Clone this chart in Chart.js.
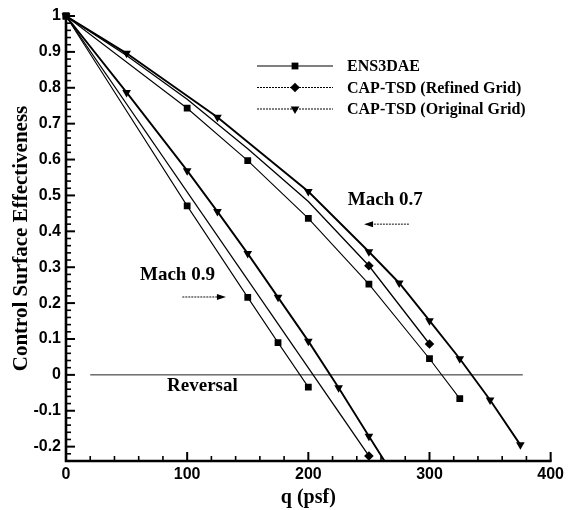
<!DOCTYPE html>
<html><head><meta charset="utf-8">
<script src="https://cdn.jsdelivr.net/npm/chart.js@4/dist/chart.umd.min.js"></script>
<style>html,body{margin:0;padding:0;background:#fff}#wrap{width:568px;height:510px;position:relative}</style>
</head><body><div id="wrap"><canvas id="c"></canvas></div>
<script>
// ---- data ----
const seriesNames = ['ENS3DAE', 'CAP-TSD (Refined Grid)', 'CAP-TSD (Original Grid)'];
// Mach 0.7
const m07EnsQ = [0, 100, 150, 200, 250, 300, 325];
const m07EnsV = [1, 0.743, 0.597, 0.436, 0.253, 0.045, -0.066];
const m07RefQ = [0, 50, 100, 150, 200, 250, 300];
const m07RefV = [1, 0.89, 0.768, 0.63, 0.483, 0.304, 0.086];
const m07RefMarkQ = [250, 300];
const m07RefMarkV = [0.304, 0.086];
const m07OrigQ = [0, 50, 125, 200, 250, 275, 300, 325, 350, 375];
const m07OrigV = [1, 0.896, 0.718, 0.511, 0.343, 0.256, 0.151, 0.045, -0.07, -0.195];
// Mach 0.9
const m09EnsQ = [0, 100, 150, 175, 200];
const m09EnsV = [1, 0.471, 0.216, 0.09, -0.034];
const m09RefQ = [0, 250];
const m09RefV = [1, -0.226];
const m09RefMarkQ = [250];
const m09RefMarkV = [-0.226];
const m09OrigQ = [0, 50, 100, 125, 150, 175, 200, 225, 250, 275];
const m09OrigV = [1, 0.787, 0.569, 0.455, 0.338, 0.216, 0.094, -0.036, -0.171, -0.305];
// reversal line
const reversalQ = [20, 377];
const reversalV = [0, 0];
// ticks
const xTicks = [0, 100, 200, 300, 400];
const yTicks = [-0.2, -0.1, 0, 0.1, 0.2, 0.3, 0.4, 0.5, 0.6, 0.7, 0.8, 0.9, 1];
const annotationTexts = ['Mach 0.7', 'Mach 0.9', 'Reversal'];

// ---- helpers ----
const pts = (qs, vs) => qs.map((q, i) => ({x: q, y: vs[i]}));
const SERIF = '"Liberation Serif", "Times New Roman", serif';
const SANS = '"Liberation Sans", Arial, sans-serif';
const styles = {
  ens:  {pointStyle: 'rect', pointRadius: 4.8, borderWidth: 1.1, rotation: 0},
  ref:  {pointStyle: 'rectRot', pointRadius: 4.8, borderWidth: 1.3, rotation: 0},
  orig: {pointStyle: 'triangle', pointRadius: 5, borderWidth: 1.9, rotation: 180}
};
const clipBox = {left: 8, top: 8, right: 8, bottom: 1};
function lineDs(label, data, st, withPoints) {
  return {
    label, data, showLine: true, borderColor: '#000', backgroundColor: '#000',
    borderWidth: st.borderWidth, pointStyle: st.pointStyle, pointRotation: st.rotation,
    pointRadius: withPoints ? st.pointRadius : 0, pointHoverRadius: 0,
    pointBorderWidth: 0, tension: 0, clip: clipBox
  };
}
function markDs(label, data, st) {
  return {
    label, data, showLine: false, borderColor: '#000', backgroundColor: '#000',
    pointStyle: st.pointStyle, pointRotation: st.rotation, pointRadius: st.pointRadius,
    pointBorderWidth: 0, clip: clipBox
  };
}

const datasets = [
  lineDs(seriesNames[0], pts(m07EnsQ, m07EnsV), styles.ens, true),
  lineDs(seriesNames[1], pts(m07RefQ, m07RefV), styles.ref, false),
  markDs(seriesNames[1], pts(m07RefMarkQ, m07RefMarkV), styles.ref),
  lineDs(seriesNames[2], pts(m07OrigQ, m07OrigV), styles.orig, true),
  lineDs(seriesNames[0], pts(m09EnsQ, m09EnsV), styles.ens, true),
  lineDs(seriesNames[1], pts(m09RefQ, m09RefV), styles.ref, false),
  markDs(seriesNames[1], pts(m09RefMarkQ, m09RefMarkV), styles.ref),
  lineDs(seriesNames[2], pts(m09OrigQ, m09OrigV), styles.orig, true),
  {label: 'Reversal', data: pts(reversalQ, reversalV), showLine: true, borderColor: '#222',
   borderWidth: 1, pointRadius: 0, pointHoverRadius: 0, clip: clipBox}
];

// ---- plugin: axes with inside ticks ----
const axesPlugin = {
  id: 'axesInside',
  afterDatasetsDraw(chart) {
    const {ctx, chartArea: a, scales: {x, y}} = chart;
    ctx.save();
    ctx.strokeStyle = '#000';
    ctx.lineCap = 'butt';
    for (let i = -12; i <= 50; i++) {
      const v = i * 0.02;
      const py = y.getPixelForValue(v);
      const major = i % 5 === 0;
      ctx.lineWidth = major ? 2 : 1.6;
      ctx.beginPath(); ctx.moveTo(a.left, py); ctx.lineTo(a.left + (major ? 9 : 5), py); ctx.stroke();
    }
    for (let i = 0; i <= 20; i++) {
      const q = i * 20;
      const px = x.getPixelForValue(q);
      const major = i % 5 === 0;
      ctx.lineWidth = major ? 2 : 1.6;
      ctx.beginPath(); ctx.moveTo(px, a.bottom); ctx.lineTo(px, a.bottom - (major ? 9 : 5)); ctx.stroke();
    }
    ctx.lineWidth = 2.6;
    ctx.beginPath();
    ctx.moveTo(a.left, a.top - 1); ctx.lineTo(a.left, a.bottom); ctx.lineTo(a.right + 1, a.bottom);
    ctx.stroke();
    ctx.restore();
  }
};

// ---- plugin: legend + annotations ----
const notesPlugin = {
  id: 'notes',
  afterDraw(chart) {
    const {ctx, scales: {x, y}} = chart;
    const h = Chart.helpers;
    ctx.save();
    const rows = [66, 87.5, 109];
    const keys = ['ens', 'ref', 'orig'];
    rows.forEach((ry, i) => {
      const st = styles[keys[i]];
      ctx.strokeStyle = '#000';
      ctx.lineWidth = 1;
      ctx.setLineDash(i === 0 ? [] : [2, 1]);
      ctx.beginPath(); ctx.moveTo(257, ry); ctx.lineTo(333, ry); ctx.stroke();
      ctx.setLineDash([]);
      ctx.fillStyle = '#000';
      h.drawPoint(ctx, {pointStyle: st.pointStyle, radius: st.pointRadius, rotation: st.rotation, borderWidth: 0}, 295, ry);
      ctx.font = 'bold 16px ' + SERIF;
      ctx.textAlign = 'left'; ctx.textBaseline = 'middle';
      ctx.fillText(seriesNames[i], 347, ry + 1);
    });
    const notes = [
      {t: annotationTexts[0], q: 263.5, v: 0.487},
      {t: annotationTexts[1], q: 92, v: 0.279},
      {t: annotationTexts[2], q: 112.6, v: -0.031}
    ];
    ctx.font = 'bold 19px ' + SERIF;
    ctx.textAlign = 'center'; ctx.textBaseline = 'middle';
    notes.forEach(n => ctx.fillText(n.t, x.getPixelForValue(n.q), y.getPixelForValue(n.v)));
    const arrows = [
      {q0: 283, q1: 246, v: 0.42},
      {q0: 96, q1: 132, v: 0.217}
    ];
    arrows.forEach(ar => {
      const x0 = x.getPixelForValue(ar.q0), x1 = x.getPixelForValue(ar.q1), py = y.getPixelForValue(ar.v);
      const dir = Math.sign(x1 - x0);
      ctx.strokeStyle = '#111'; ctx.lineWidth = 1; ctx.setLineDash([2, 1]);
      ctx.beginPath(); ctx.moveTo(x0, py); ctx.lineTo(x1 - dir * 6, py); ctx.stroke();
      ctx.setLineDash([]);
      ctx.fillStyle = '#000';
      ctx.beginPath(); ctx.moveTo(x1, py); ctx.lineTo(x1 - dir * 9, py - 3); ctx.lineTo(x1 - dir * 9, py + 3); ctx.closePath(); ctx.fill();
    });
    ctx.restore();
  }
};

new Chart(document.getElementById('c'), {
  type: 'scatter',
  data: {datasets},
  options: {
    responsive: true, maintainAspectRatio: false, animation: false,
    layout: {padding: {top: 16, right: 17, left: 0, bottom: 0}},
    plugins: {legend: {display: false}, tooltip: {enabled: false}},
    scales: {
      x: {
        type: 'linear', min: 0, max: 400,
        grid: {display: false, drawTicks: false},
        border: {display: false},
        afterBuildTicks: s => { s.ticks = xTicks.map(v => ({value: v})); },
        afterFit: s => { s.height = 49; },
        ticks: {color: '#000', padding: 4, font: {family: SANS, size: 16, weight: 'bold'}, maxRotation: 0},
        title: {display: true, text: 'q (psf)', color: '#000', padding: {top: 0, bottom: 0},
                font: {family: SERIF, size: 20, weight: 'bold', lineHeight: 1.2}}
      },
      y: {
        type: 'linear', min: -0.24, max: 1,
        grid: {display: false, drawTicks: false},
        border: {display: false},
        afterBuildTicks: s => { s.ticks = yTicks.map(v => ({value: v})); },
        afterFit: s => { s.width = 66; },
        ticks: {color: '#000', padding: 5, font: {family: SANS, size: 16, weight: 'bold'},
                callback: v => String(Number(v.toFixed(2)))},
        title: {display: true, text: 'Control Surface Effectiveness', color: '#000', padding: {top: 9, bottom: 0},
                font: {family: SERIF, size: 21, weight: 'bold', lineHeight: 1.2}}
      }
    }
  },
  plugins: [axesPlugin, notesPlugin]
});
</script>
</body></html>
